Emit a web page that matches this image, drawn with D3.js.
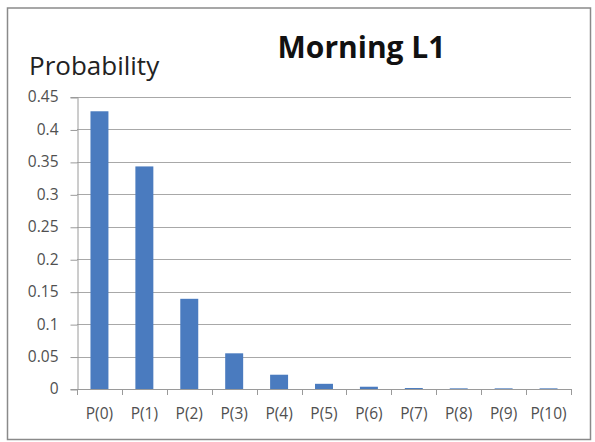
<!DOCTYPE html>
<html>
<head>
<meta charset="utf-8">
<script src="https://cdn.jsdelivr.net/npm/d3@7"></script>
<style>
  html, body { margin: 0; padding: 0; background: #fff; }
  svg { display: block; }
</style>
</head>
<body>
<div id="chart"></div>
<script>
// Probability distribution for the morning L1 period
const categories = ["P(0)", "P(1)", "P(2)", "P(3)", "P(4)", "P(5)", "P(6)", "P(7)", "P(8)", "P(9)", "P(10)"];
const probabilities = [0.428, 0.343, 0.139, 0.055, 0.022, 0.008, 0.0035, 0.0015, 0.001, 0.001, 0.001];
const yTicks = [0, 0.05, 0.1, 0.15, 0.2, 0.25, 0.3, 0.35, 0.4, 0.45];
const yTickLabels = ["0", "0.05", "0.1", "0.15", "0.2", "0.25", "0.3", "0.35", "0.4", "0.45"];

const W = 595, H = 442;
const plot = { left: 77, right: 571, top: 97, bottom: 389 };
const labelFont = "'Open Sans', 'DejaVu Sans', sans-serif";

const svg = d3.select("#chart").append("svg")
  .attr("width", W).attr("height", H);

// Outer chart frame
svg.append("rect")
  .attr("x", 7.5).attr("y", 8)
  .attr("width", 583).attr("height", 431.5)
  .attr("fill", "#fff")
  .attr("stroke", "#8a8a8a").attr("stroke-width", 1.5);

const x = d3.scaleBand()
  .domain(categories)
  .range([plot.left, plot.right])
  .paddingInner(0.6).paddingOuter(0.3);

const y = d3.scaleLinear()
  .domain([0, 0.45])
  .range([plot.bottom, plot.top]);

// Horizontal gridlines
svg.append("g")
  .selectAll("line")
  .data(yTicks.filter(d => d > 0))
  .join("line")
  .attr("x1", plot.left).attr("x2", plot.right)
  .attr("y1", d => Math.round(y(d)) + 0.5).attr("y2", d => Math.round(y(d)) + 0.5)
  .attr("stroke", "#a8a8a8").attr("stroke-width", 1);

// Y axis
const yAxis = d3.axisLeft(y)
  .tickValues(yTicks)
  .tickFormat((d, i) => yTickLabels[i])
  .tickSize(7).tickPadding(12);
const gy = svg.append("g")
  .attr("transform", `translate(${plot.left + 0.5},0)`)
  .call(yAxis);
gy.select(".domain").attr("stroke", "#9a9a9a");
gy.selectAll(".tick line").attr("stroke", "#9a9a9a")
  .attr("transform", "translate(0,0.5)");
gy.selectAll(".tick text")
  .attr("fill", "#505050")
  .style("font-family", labelFont)
  .style("font-size", "15.5px");

// Bars
svg.append("g")
  .selectAll("rect")
  .data(categories.map((c, i) => ({ c, v: probabilities[i] })))
  .join("rect")
  .attr("x", d => x(d.c))
  .attr("y", d => y(d.v))
  .attr("width", x.bandwidth())
  .attr("height", d => y(0) - y(d.v))
  .attr("fill", "#4a7bbf");

// X axis with tick marks between categories
const xEdge = d3.scaleLinear().domain([0, categories.length]).range([plot.left, plot.right]);
const gx = svg.append("g");
gx.append("line")
  .attr("x1", plot.left).attr("x2", plot.right)
  .attr("y1", plot.bottom + 0.5).attr("y2", plot.bottom + 0.5)
  .attr("stroke", "#9a9a9a");
gx.selectAll("line.tk")
  .data(d3.range(categories.length + 1))
  .join("line")
  .attr("class", "tk")
  .attr("x1", d => Math.round(xEdge(d)) + 0.5).attr("x2", d => Math.round(xEdge(d)) + 0.5)
  .attr("y1", plot.bottom).attr("y2", plot.bottom + 6)
  .attr("stroke", "#9a9a9a");
gx.selectAll("text")
  .data(categories)
  .join("text")
  .attr("x", d => x(d) + x.bandwidth() / 2)
  .attr("y", 419)
  .attr("text-anchor", "middle")
  .attr("fill", "#505050")
  .style("font-family", labelFont)
  .style("font-size", "15.5px")
  .text(d => d);

// Title and axis label
svg.append("text")
  .attr("x", 361.5).attr("y", 58)
  .attr("text-anchor", "middle")
  .attr("fill", "#111")
  .style("font-family", "'Open Sans', sans-serif")
  .style("font-weight", "bold")
  .style("font-size", "30px")
  .text("Morning L1");

svg.append("text")
  .attr("x", 29).attr("y", 75)
  .attr("fill", "#222")
  .style("font-family", "'Open Sans', sans-serif")
  .style("font-size", "26px")
  .text("Probability");
</script>
</body>
</html>
